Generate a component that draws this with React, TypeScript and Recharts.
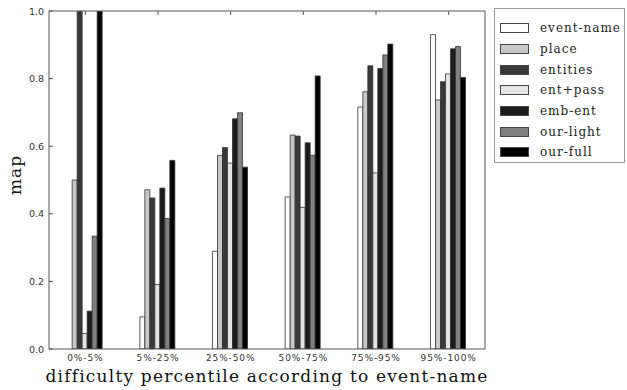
import { BarChart, Bar, XAxis, YAxis } from 'recharts';

const categories = ['0%-5%', '5%-25%', '25%-50%', '50%-75%', '75%-95%', '95%-100%'];
const eventName = [0.0, 0.095, 0.289, 0.45, 0.716, 0.93];
const place = [0.5, 0.471, 0.573, 0.633, 0.761, 0.737];
const entities = [1.0, 0.447, 0.596, 0.63, 0.838, 0.791];
const entPass = [0.046, 0.191, 0.55, 0.419, 0.521, 0.814];
const embEnt = [0.112, 0.476, 0.681, 0.61, 0.83, 0.888];
const ourLight = [0.334, 0.386, 0.699, 0.573, 0.87, 0.895];
const ourFull = [1.0, 0.558, 0.538, 0.808, 0.902, 0.803];
const yTicks = [0, 0.2, 0.4, 0.6, 0.8, 1.0];

const series = [
  { key: 'event-name', values: eventName, fill: '#ffffff' },
  { key: 'place', values: place, fill: '#c8c8c8' },
  { key: 'entities', values: entities, fill: '#383838' },
  { key: 'ent+pass', values: entPass, fill: '#e4e4e4' },
  { key: 'emb-ent', values: embEnt, fill: '#1c1c1c' },
  { key: 'our-light', values: ourLight, fill: '#808080' },
  { key: 'our-full', values: ourFull, fill: '#000000' },
];

const data = categories.map((name, i) => {
  const row: Record<string, number | string> = { name };
  series.forEach((s) => (row[s.key] = s.values[i]));
  return row;
});

const serif = '"DejaVu Serif", serif';
const sans = '"DejaVu Sans", sans-serif';
const axisColor = '#555';

const LeftTick = (props: any) => {
  const { x, y, payload } = props;
  return (
    <g>
      <line x1={x} x2={x + 4} y1={y} y2={y} stroke={axisColor} strokeWidth={1} />
      <text x={x - 5} y={y} dy={3.5} textAnchor="end" fontSize={9.5} fontFamily={sans} fill="#333">
        {payload.value.toFixed(1)}
      </text>
    </g>
  );
};

const RightTick = (props: any) => {
  const { x, y } = props;
  return <line x1={x - 4} x2={x} y1={y} y2={y} stroke={axisColor} strokeWidth={1} />;
};

const BottomTick = (props: any) => {
  const { x, y, payload } = props;
  return (
    <text x={x} y={y + 11.5} textAnchor="middle" fontSize={9} letterSpacing={0.9} fontFamily={sans} fill="#333">
      {payload.value}
    </text>
  );
};

const TopTick = (props: any) => {
  const { x, y } = props;
  return <line x1={x} x2={x} y1={y} y2={y + 4} stroke={axisColor} strokeWidth={1} />;
};

const LegendBox = () => (
  <div
    style={{
      position: 'absolute',
      left: 494,
      top: 8,
      width: 131,
      height: 155,
      border: '1px solid #999',
      background: '#fff',
      boxSizing: 'border-box',
      paddingTop: 9,
    }}
  >
    {series.map((s) => (
      <div key={s.key} style={{ display: 'flex', alignItems: 'center', height: 20.7 }}>
        <div
          style={{
            width: 29,
            height: 10,
            marginLeft: 5,
            marginRight: 11,
            background: s.fill,
            border: '1px solid #444',
            boxSizing: 'border-box',
          }}
        />
        <span style={{ fontFamily: serif, fontSize: 12, letterSpacing: 1, color: '#222' }}>{s.key}</span>
      </div>
    ))}
  </div>
);

export default function App() {
  return (
    <div style={{ position: 'absolute', left: 0, top: 0, width: 627, height: 390, background: '#fff' }}>
      <BarChart
        width={627}
        height={390}
        data={data}
        margin={{ top: 10, right: 141, bottom: 0, left: 0 }}
        barCategoryGap="25%"
        barGap={0}
      >
        <XAxis
          dataKey="name"
          xAxisId="bottom"
          height={41}
          axisLine={{ stroke: axisColor, strokeWidth: 1 }}
          tickLine={false}
          tickSize={0}
          tickMargin={0}
          tick={BottomTick}
          interval={0}
        />
        <XAxis
          dataKey="name"
          xAxisId="top"
          orientation="top"
          height={1}
          axisLine={{ stroke: axisColor, strokeWidth: 1 }}
          tickLine={false}
          tickSize={0}
          tickMargin={0}
          tick={TopTick}
          interval={0}
        />
        <YAxis
          yAxisId="left"
          width={49}
          domain={[0, 1]}
          ticks={yTicks}
          allowDataOverflow
          axisLine={{ stroke: axisColor, strokeWidth: 1 }}
          tickLine={false}
          tickSize={0}
          tickMargin={0}
          tick={LeftTick}
        />
        <YAxis
          yAxisId="right"
          orientation="right"
          width={1}
          domain={[0, 1]}
          ticks={yTicks}
          axisLine={{ stroke: axisColor, strokeWidth: 1 }}
          tickLine={false}
          tickSize={0}
          tickMargin={0}
          tick={RightTick}
        />
        {series.map((s) => (
          <Bar
            key={s.key}
            dataKey={s.key}
            xAxisId="bottom"
            yAxisId="left"
            fill={s.fill}
            stroke="#333"
            strokeWidth={0.8}
            isAnimationActive={false}
          />
        ))}
      </BarChart>
      <LegendBox />
      <div
        style={{
          position: 'absolute',
          left: 0,
          width: 534,
          top: 366,
          textAlign: 'center',
          fontFamily: serif,
          fontSize: 17,
          letterSpacing: 1.2,
          color: '#111',
        }}
      >
        difficulty percentile according to event-name
      </div>
      <div
        style={{
          position: 'absolute',
          left: 15,
          top: 175,
          transform: 'translate(-50%, -50%) rotate(-90deg)',
          fontFamily: serif,
          fontSize: 17,
          letterSpacing: 1,
          color: '#111',
          whiteSpace: 'nowrap',
        }}
      >
        map
      </div>
    </div>
  );
}
